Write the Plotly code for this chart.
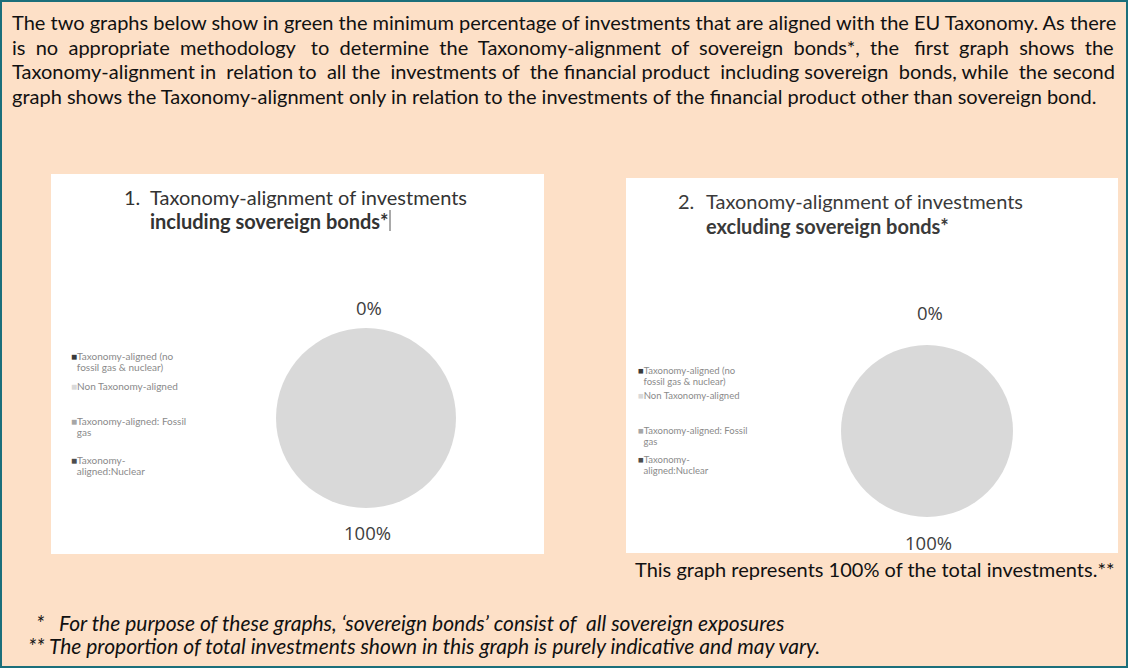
import plotly.graph_objects as go

W, H = 1128, 668

# ---- content -------------------------------------------------------------
intro_lines = [
    "The two graphs below show in green the minimum percentage of investments that are aligned with the EU Taxonomy. As there",
    "is no appropriate methodology to determine the Taxonomy-alignment of sovereign bonds*, the first graph shows the",
    "Taxonomy-alignment in relation to all the investments of the financial product including sovereign bonds, while the second",
    "graph shows the Taxonomy-alignment only in relation to the investments of the financial product other than sovereign bond.",
]
# extra non-breaking spaces used to justify each line to the full width
intro_extra_spaces = [0, 17, 7, 0]

categories = [
    "Taxonomy-aligned (no fossil gas & nuclear)",
    "Non Taxonomy-aligned",
    "Taxonomy-aligned: Fossil gas",
    "Taxonomy-aligned:Nuclear",
]
legend_lines = [
    ["Taxonomy-aligned (no", "fossil gas & nuclear)"],
    ["Non Taxonomy-aligned"],
    ["Taxonomy-aligned: Fossil", "gas"],
    ["Taxonomy-", "aligned:Nuclear"],
]
category_colors = ["#3a3a3a", "#d9d9d9", "#a6a6a6", "#4d4d4d"]

# share of investments per category (%)
incl_sovereign = [0, 100, 0, 0]
excl_sovereign = [0, 100, 0, 0]

titles = [
    ("1.", "Taxonomy-alignment of investments", "including sovereign bonds*"),
    ("2.", "Taxonomy-alignment of investments", "excluding sovereign bonds*"),
]
caption = "This graph represents 100% of the total investments.**"
footnotes = [
    "*   For the purpose of these graphs, \u2018sovereign bonds\u2019 consist of  all sovereign exposures",
    "** The proportion of total investments shown in this graph is purely indicative and may vary.",
]

# ---- helpers -------------------------------------------------------------
def fx(x):
    return x / W


def fy(y):
    return 1 - y / H


def justify(line, extra):
    """Widen a line by spreading `extra` non-breaking spaces over its gaps."""
    words = line.split(" ")
    gaps = len(words) - 1
    out = words[0]
    given = 0
    for g in range(gaps):
        target = round((g + 1) * extra / gaps)
        n = target - given
        given = target
        out += " " + "\u00a0" * n + words[g + 1]
    return out


PEACH = "#fde0c7"
TEAL = "#1b6f7b"
BODY_FONT = "Lato"

fig = go.Figure()
shapes = []
annotations = []


def text(x, y, s, size, color="#111111", anchor="left", bold=False, italic=False, family=BODY_FONT):
    if bold:
        s = "<b>" + s + "</b>"
    if italic:
        s = "<i>" + s + "</i>"
    annotations.append(dict(
        x=fx(x), y=fy(y), xref="paper", yref="paper", text=s, showarrow=False,
        xanchor=anchor, yanchor="middle",
        font=dict(family=family, size=size, color=color),
    ))


# outer frame
shapes.append(dict(type="rect", xref="paper", yref="paper", x0=fx(1), y0=fy(667), x1=fx(1127), y1=fy(1),
                   line=dict(color=TEAL, width=2), fillcolor=PEACH, layer="below"))

# intro paragraph
for i, line in enumerate(intro_lines):
    text(10, 22 + i * 24.7, justify(line, intro_extra_spaces[i]), 20)

# the two white chart panels
panels = [
    dict(x0=51, x1=544, y0=174, y1=554, num_x=122, title_x=148, t1_y=197, t2_y=221,
         legend_x=69, legend_y=[356, 386, 421, 460], legend_size=10, values=incl_sovereign,
         pie=(366, 418, 90), pct_top=307, pct_bottom=532, title_color="#333333"),
    dict(x0=626, x1=1118, y0=178, y1=553, num_x=676, title_x=704, t1_y=201, t2_y=226,
         legend_x=636, legend_y=[370, 395, 430, 459], legend_size=9.5, values=excl_sovereign,
         pie=(927, 431, 86), pct_top=312, pct_bottom=542, title_color="#3a3a3a"),
]

for k, p in enumerate(panels):
    shapes.append(dict(type="rect", xref="paper", yref="paper",
                       x0=fx(p["x0"]), x1=fx(p["x1"]), y0=fy(p["y1"]), y1=fy(p["y0"]),
                       line=dict(width=0), fillcolor="white", layer="below"))
    num, t1, t2 = titles[k]
    text(p["num_x"], p["t1_y"], num, 20, color=p["title_color"])
    text(p["title_x"], p["t1_y"], t1, 20, color=p["title_color"])
    text(p["title_x"], p["t2_y"], t2, 20, color=p["title_color"], bold=True)

    # legend
    for j, lines in enumerate(legend_lines):
        y0 = p["legend_y"][j]
        for m, ln in enumerate(lines):
            if m == 0:
                s = "<span style='color:%s'>\u25a0</span>%s" % (category_colors[j], ln)
            else:
                s = "\u2007" + ln
            text(p["legend_x"], y0 + m * 11, s, p["legend_size"], color="#8a8a8a")

    # pie
    cx, cy, r = p["pie"]
    fig.add_trace(go.Pie(
        labels=categories, values=p["values"], sort=False, direction="clockwise",
        marker=dict(colors=category_colors, line=dict(width=0)),
        textinfo="none", hoverinfo="label+percent", showlegend=False,
        domain=dict(x=[fx(cx - r), fx(cx + r)], y=[fy(cy + r), fy(cy - r)]),
    ))
    total = sum(p["values"])
    aligned_pct = round(100 * p["values"][0] / total)
    other_pct = round(100 * p["values"][1] / total)
    text(cx + 3, p["pct_top"], "%d%%" % aligned_pct, 18.5, color="#404040", anchor="center", family="Open Sans")
    text(cx + 1, p["pct_bottom"], "%d%%" % other_pct, 18.5, color="#404040", anchor="center", family="Open Sans")

# cursor mark after the first bold title
shapes.append(dict(type="line", xref="paper", yref="paper", x0=fx(390), x1=fx(390), y0=fy(231), y1=fy(210),
                   line=dict(color="#555555", width=1)))

# caption under the second panel
text(874, 569, caption, 20, anchor="center")

# footnotes
text(34, 622, footnotes[0], 21, italic=True)
text(26, 645, footnotes[1], 21, italic=True)

fig.update_layout(
    width=W, height=H, margin=dict(l=0, r=0, t=0, b=0),
    paper_bgcolor=PEACH, plot_bgcolor=PEACH,
    shapes=shapes, annotations=annotations,
    xaxis=dict(visible=False), yaxis=dict(visible=False),
)

fig.write_html("out.html")
